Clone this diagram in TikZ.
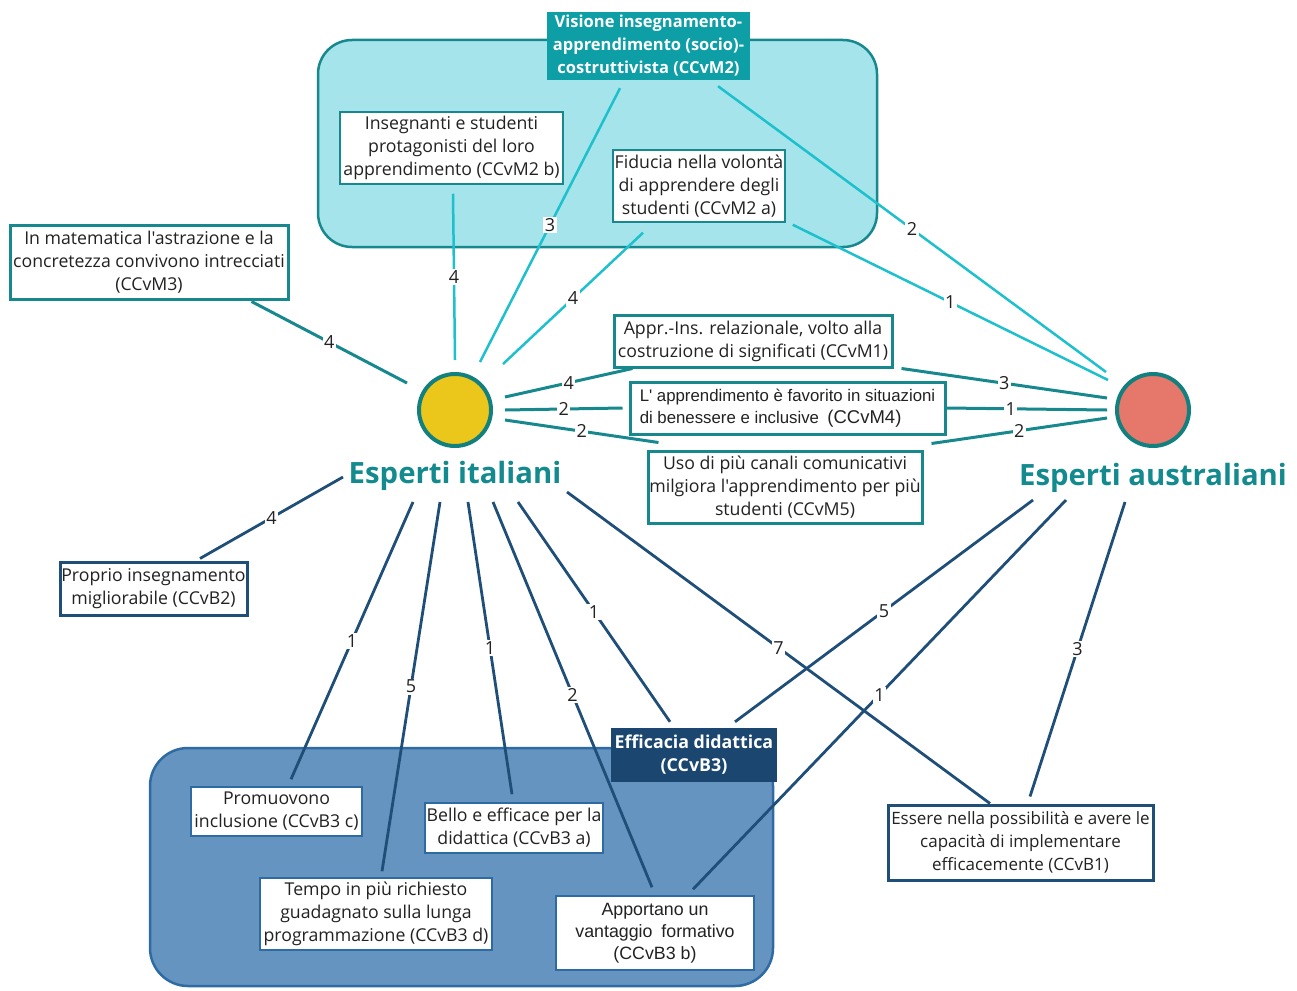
\documentclass[tikz,border=0pt]{standalone}
\usepackage{fontspec}
\setmainfont{Open Sans}[Ligatures=TeXOff]
\newfontfamily\arialf{Liberation Sans}
\usetikzlibrary{calc}
\definecolor{tealline}{HTML}{17898E}
\definecolor{cyanline}{HTML}{1DC0CC}
\definecolor{cyanfill}{HTML}{A4E4EA}
\definecolor{titlefill}{HTML}{0E9EA6}
\definecolor{navyline}{HTML}{1F4E79}
\definecolor{bluefill}{HTML}{6594C0}
\definecolor{blueedge}{HTML}{2E6BA3}
\definecolor{efffill}{HTML}{1B4670}
\definecolor{sunfill}{HTML}{ECC71B}
\definecolor{redfill}{HTML}{E5786A}
\definecolor{circedge}{HTML}{12807F}
\definecolor{bigtext}{HTML}{138A8E}
\definecolor{txt}{HTML}{222222}
\begin{document}
\begin{tikzpicture}[x=1pt,y=-1pt,
  every node/.style={text=txt},
  boxbase/.style={fill=white, align=center, inner sep=1pt, font=\fontsize{17.7}{23}\selectfont},
  thinteal/.style={boxbase, draw=tealline, line width=1.5},
  thickteal/.style={boxbase, draw=tealline, line width=3},
  thicknavy/.style={boxbase, draw=navyline, line width=3},
  innerblue/.style={boxbase, draw=blueedge, line width=1.5},
  grouphead/.style={align=center, inner sep=1pt, text=white, font=\bfseries\fontsize{16.5}{23}\selectfont},
  expert/.style={circle, draw=circedge, line width=4, minimum size=72},
  bigname/.style={text=bigtext, inner sep=0pt, font=\bfseries\fontsize{29.3}{30}\selectfont},
  cyanedge/.style={draw=cyanline, line width=2.5},
  tealedge/.style={draw=tealline, line width=3},
  navyedge/.style={draw=navyline, line width=2.8},
  num/.style={fill=white, inner sep=1.5pt, font=\fontsize{18}{18}\selectfont}
]
\useasboundingbox (0,0) rectangle (1297,990);

% group backgrounds
\node[draw=tealline, line width=2.5, fill=cyanfill, rounded corners=34,
      minimum width=559, minimum height=207, inner sep=0pt] (grpM) at (597.5,143.5) {};
\node[draw=blueedge, line width=2.5, fill=bluefill, rounded corners=38,
      minimum width=623, minimum height=238, inner sep=0pt] (grpB) at (461.5,867) {};

% experts
\node[expert, fill=sunfill] (yc) at (455,410) {};
\node[expert, fill=redfill] (rc) at (1153,410) {};
\node[bigname] (it) at (455,476) {Esperti italiani};
\node[bigname] (au) at (1153,478) {Esperti australiani};

% concept boxes
\node[grouphead, fill=titlefill, minimum width=203, minimum height=68] (title) at (648.5,46)
  {Visione insegnamento-\\apprendimento (socio)-\\costruttivista (CCvM2)};
\node[thinteal, minimum width=223, minimum height=72] (m2b) at (451.5,148)
  {Insegnanti e studenti\\protagonisti del loro\\apprendimento (CCvM2 b)};
\node[thinteal, minimum width=172, minimum height=72] (m2a) at (699,186)
  {Fiducia nella volontà\\di apprendere degli\\studenti (CCvM2 a)};
\node[thickteal, minimum width=278, minimum height=74] (m3) at (149,262)
  {In matematica l'astrazione e la\\concretezza convivono intrecciati\\(CCvM3)};
\node[thickteal, minimum width=278, minimum height=52] (m1) at (753,341)
  {Appr.-Ins. relazionale, volto alla\\costruzione di significati (CCvM1)};
\node[thickteal, minimum width=315, minimum height=52, align=left, font=\arialf\fontsize{16.8}{22}\selectfont] (m4) at (787.5,408)
  {L' apprendimento è favorito in situazioni\\di benessere e inclusive\enspace{\fontsize{18.5}{22}\selectfont(CCvM4)}};
\node[thickteal, minimum width=274, minimum height=72] (m5) at (785,487)
  {Uso di più canali comunicativi\\milgiora l'apprendimento per più\\studenti (CCvM5)};
\node[thicknavy, minimum width=187, minimum height=53] (b2) at (153.5,588.5)
  {Proprio insegnamento\\migliorabile (CCvB2)};
\node[thicknavy, minimum width=265, minimum height=75, font=\fontsize{17}{23}\selectfont] (b1) at (1020.5,842.5)
  {Essere nella possibilità e avere le\\capacità di implementare\\efficacemente (CCvB1)};
\node[grouphead, fill=efffill, minimum width=166, minimum height=54, font=\bfseries\fontsize{17.8}{23}\selectfont] (eff) at (694,755)
  {Efficacia didattica\\(CCvB3)};
\node[innerblue, minimum width=171, minimum height=49] (b3c) at (276.5,811.5)
  {Promuovono\\inclusione (CCvB3 c)};
\node[innerblue, minimum width=178, minimum height=50] (b3a) at (514,828)
  {Bello e efficace per la\\didattica (CCvB3 a)};
\node[innerblue, minimum width=232, minimum height=72] (b3d) at (376,914)
  {Tempo in più richiesto\\guadagnato sulla lunga\\programmazione (CCvB3 d)};
\node[innerblue, minimum width=198, minimum height=74, font=\arialf\fontsize{17.8}{22}\selectfont] (b3b) at (655,933)
  {Apportano un\\vantaggio\enspace formativo\\(CCvB3 b)};

% connectors of the constructivist group
\draw[cyanedge] ($(m2b.south)+(1.5,9)$) -- node[num]{4} ($(yc)+(0,-50)$);
\draw[cyanedge] ($(title.south)+(-28.5,8)$) -- node[num]{3} ($(yc)+(25,-48)$);
\draw[cyanedge] ($(m2a.south)+(-56,10)$) -- node[num]{4} ($(yc)+(48,-46)$);
\draw[cyanedge] ($(title.south)+(69.5,6)$) -- node[num]{2} ($(rc)+(-47,-38)$);
\draw[cyanedge] ($(m2a.south east)+(7,2)$) -- node[num]{1} ($(rc)+(-45,-30)$);

% teal connectors
\draw[tealedge] ($(m3.south east)+(-38,1)$) -- node[num]{4} ($(yc)+(-48,-27)$);
\draw[tealedge] ($(yc)+(50,-13)$) -- node[num]{4} ($(m1.south west)+(20,0)$);
\draw[tealedge] ($(yc)+(50,0)$) -- node[num]{2} ($(m4.west)+(-6,0)$);
\draw[tealedge] ($(yc)+(50,10)$) -- node[num]{2} ($(m5.north west)+(12,-7)$);
\draw[tealedge] ($(m1.south east)+(8,0)$) -- node[num]{3} ($(rc)+(-46,-12)$);
\draw[tealedge] (m4.east) -- node[num, pos=0.4]{1} ($(rc)+(-46,0)$);
\draw[tealedge] ($(m5.north east)+(8,-6)$) -- node[num]{2} ($(rc)+(-46,8)$);

% navy connectors
\draw[navyedge] ($(yc)+(-112,67)$) -- node[num]{4} ($(b2.north)+(46.5,-2)$);
\draw[navyedge] ($(yc)+(-42,92)$) -- node[num]{1} ($(b3c.north)+(14.5,-7)$);
\draw[navyedge] ($(yc)+(-15,92)$) -- node[num]{5} ($(b3d.north)+(6,-6)$);
\draw[navyedge] ($(yc)+(13,92)$) -- node[num]{1} ($(b3a.north)+(-2,-8)$);
\draw[navyedge] ($(yc)+(38,92)$) -- node[num]{2} ($(b3b.north)+(-3,-8)$);
\draw[navyedge] ($(yc)+(63,92)$) -- node[num]{1} ($(eff.north)+(-24,-6)$);
\draw[navyedge] ($(rc)+(-120,90)$) -- node[num]{5} ($(eff.north)+(41,-6)$);
\draw[navyedge] ($(rc)+(-87,90)$) -- node[num]{1} ($(b3b.north)+(38,-6)$);
\draw[navyedge] ($(yc)+(112,82)$) -- node[num]{7} ($(b1.north)+(-30.5,0)$);
\draw[navyedge] ($(rc)+(-28,92)$) -- node[num]{3} ($(b1.north)+(9.5,-7)$);
\end{tikzpicture}
\end{document}
